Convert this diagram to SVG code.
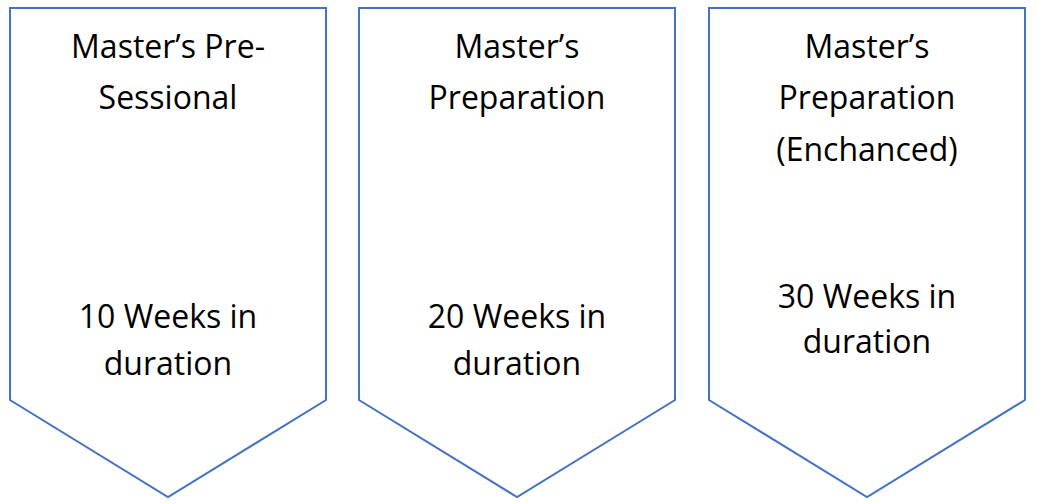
<svg xmlns="http://www.w3.org/2000/svg" width="1037" height="504" viewBox="0 0 1037 504">
<style>
.s{fill:#fff;stroke:#4472c4;stroke-width:2}
text{font-family:"Open Sans","Liberation Sans",sans-serif;font-size:32px;fill:#000;text-anchor:middle}
</style>
<rect width="1037" height="504" fill="#fff"/>
<g id="n1"><polygon class="s" points="10,8 326,8 326,400 168,497 10,400"/>
<text x="168" y="58">Master’s Pre-</text><text x="168" y="109">Sessional</text>
<text x="168" y="328">10 Weeks in</text><text x="168" y="375">duration</text></g>
<g id="n2"><polygon class="s" points="359,8 675,8 675,400 517,497 359,400"/>
<text x="517" y="58">Master’s</text><text x="517" y="109">Preparation</text>
<text x="517" y="328">20 Weeks in</text><text x="517" y="375">duration</text></g>
<g id="n3"><polygon class="s" points="709,8 1025,8 1025,400 867,497 709,400"/>
<text x="867" y="58">Master’s</text><text x="867" y="109">Preparation</text><text x="867" y="161">(Enchanced)</text>
<text x="867" y="308">30 Weeks in</text><text x="867" y="353">duration</text></g>
<g id="connectors"/>
</svg>
